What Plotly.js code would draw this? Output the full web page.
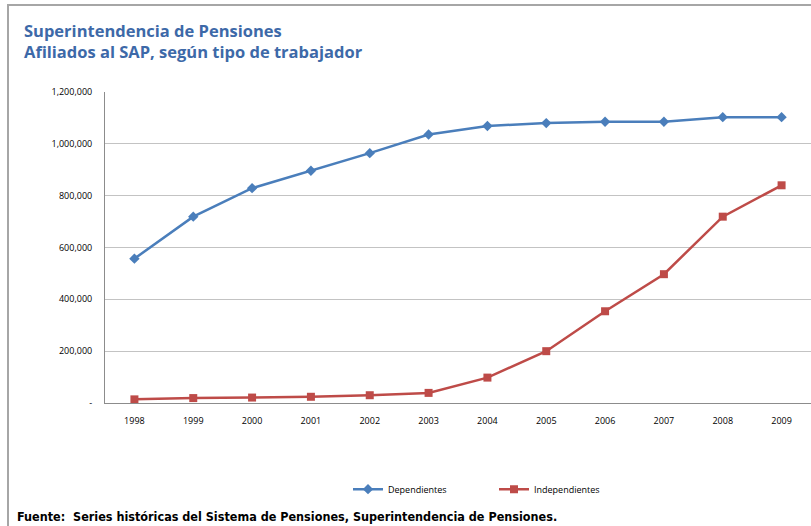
<!DOCTYPE html>
<html>
<head>
<meta charset="utf-8">
<script src="https://cdn.plot.ly/plotly-3.0.1.min.js"></script>
<style>
html,body{margin:0;padding:0;background:#fff;}
#wrap{position:relative;width:811px;height:526px;}
#chart{width:811px;height:526px;}
#frame{position:absolute;left:7px;top:4px;right:0;bottom:0;border-left:2px solid #a6a6a6;border-top:2px solid #a6a6a6;pointer-events:none;}
</style>
</head>
<body>
<div id="wrap"><div id="chart"></div><div id="frame"></div></div>
<script>
const years = ['1998','1999','2000','2001','2002','2003','2004','2005','2006','2007','2008','2009'];
const dependientes = [557000, 719000, 829000, 896000, 964000, 1036000, 1069000, 1080000, 1085000, 1085000, 1103000, 1103000];
const independientes = [14000, 19000, 21000, 24000, 30000, 39000, 98000, 200000, 354000, 497000, 719000, 840000];
const yTickVals = [0, 200000, 400000, 600000, 800000, 1000000, 1200000];
const yTickText = ['-', '200,000', '400,000', '600,000', '800,000', '1,000,000', '1,200,000'];
const seriesNames = ['Dependientes', 'Independientes'];
const titleText = 'Superintendencia de Pensiones<br>Afiliados al SAP, según tipo de trabajador';
const sourceText = 'Fuente:  Series históricas del Sistema de Pensiones, Superintendencia de Pensiones.';

const font = 'Liberation Sans Narrow, DejaVu Sans Condensed, Arial, sans-serif';

const traces = [
  {x: years, y: dependientes, name: seriesNames[0], type: 'scatter', mode: 'lines+markers',
   line: {color: '#4a7ebb', width: 2.5}, marker: {symbol: 'diamond', size: 8, color: '#4a7ebb'}},
  {x: years, y: independientes, name: seriesNames[1], type: 'scatter', mode: 'lines+markers',
   line: {color: '#be4b48', width: 2.5}, marker: {symbol: 'square', size: 8, color: '#be4b48'}}
];

const layout = {
  width: 811, height: 526,
  margin: {l: 105, r: 0, t: 92, b: 123},
  paper_bgcolor: '#fff', plot_bgcolor: '#fff',
  font: {family: font, size: 10, color: '#000'},
  title: {text: titleText, x: 24/811, xanchor: 'left', xref: 'container', y: 1 - 37/526, yanchor: 'middle', yref: 'container',
          font: {family: 'Open Sans, sans-serif', size: 16.5, color: '#3d69a8', weight: 'bold'}},
  showlegend: true,
  legend: {orientation: 'h', x: (348-105)/706, xanchor: 'left', y: -0.277, yanchor: 'middle',
           font: {family: 'Open Sans, sans-serif', size: 9, color: '#000'}, itemwidth: 30, tracegroupgap: 0,
           entrywidth: 101},
  xaxis: {type: 'category', range: [-0.5, 11.5], showgrid: false, showline: true, linecolor: '#8c8c8c', linewidth: 1,
          ticks: '', tickfont: {family: 'Open Sans, sans-serif', size: 9, color: '#000'}, ticklabelstandoff: 9, fixedrange: true},
  yaxis: {range: [0, 1200000], tickvals: yTickVals, ticktext: yTickText, showgrid: true, gridcolor: '#c3c3c3', gridwidth: 1,
          showline: true, linecolor: '#8c8c8c', linewidth: 1, zeroline: false, ticks: '',
          tickfont: {family: 'Open Sans, sans-serif', size: 9, color: '#000'}, ticklabelstandoff: 10, fixedrange: true},
  annotations: [
    {text: '<b>' + sourceText + '</b>', xref: 'paper', yref: 'paper', x: -90/706, y: -113/311, xanchor: 'left', yanchor: 'middle',
     showarrow: false, font: {family: font, size: 12.5, color: '#000'}}
  ]
};

Plotly.newPlot('chart', traces, layout, {displayModeBar: false, staticPlot: true});
</script>
</body>
</html>
